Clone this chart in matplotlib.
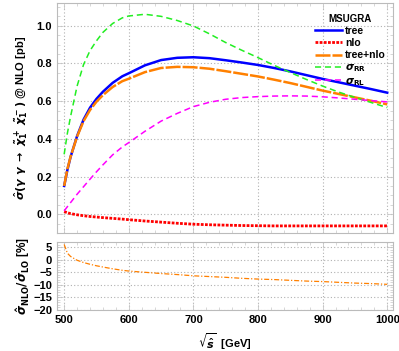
import matplotlib
matplotlib.use("Agg")
import matplotlib.pyplot as plt
from matplotlib.ticker import AutoMinorLocator, MultipleLocator

# energies (GeV)
sqrt_s = [500, 505, 510, 520, 530, 540, 550, 560, 575, 590, 600, 625, 650, 675,
          700, 725, 750, 775, 800, 825, 850, 875, 900, 925, 950, 975, 1000]

# cross sections [pb]
tree = [0.150, 0.235, 0.305, 0.415, 0.502, 0.565, 0.612, 0.650, 0.697, 0.732, 0.748,
        0.790, 0.818, 0.830, 0.833, 0.828, 0.817, 0.805, 0.792, 0.776, 0.758, 0.738,
        0.718, 0.700, 0.682, 0.664, 0.645]
nlo = [0.014, 0.008, 0.003, -0.003, -0.008, -0.012, -0.015, -0.018, -0.022, -0.026,
       -0.029, -0.036, -0.042, -0.048, -0.053, -0.056, -0.058, -0.060, -0.061, -0.062,
       -0.062, -0.062, -0.062, -0.062, -0.062, -0.062, -0.062]
tree_nlo = [0.150, 0.240, 0.306, 0.412, 0.494, 0.553, 0.597, 0.632, 0.675, 0.706, 0.719,
            0.754, 0.776, 0.782, 0.780, 0.772, 0.759, 0.745, 0.731, 0.714, 0.696, 0.676,
            0.656, 0.638, 0.620, 0.602, 0.583]
sigma_rr = [0.318, 0.430, 0.520, 0.680, 0.794, 0.868, 0.920, 0.965, 1.012, 1.042, 1.052,
            1.061, 1.050, 1.028, 0.999, 0.957, 0.911, 0.870, 0.831, 0.790, 0.752, 0.715,
            0.680, 0.648, 0.620, 0.593, 0.566]
sigma_rl = [0.018, 0.040, 0.062, 0.106, 0.146, 0.186, 0.225, 0.262, 0.315, 0.357, 0.380,
            0.440, 0.494, 0.535, 0.571, 0.594, 0.610, 0.619, 0.624, 0.627, 0.628, 0.627,
            0.623, 0.617, 0.610, 0.603, 0.596]

# ratio nlo/tree [%]
ratio = [6.1, 2.6, 1.3, -0.2, -1.1, -1.8, -2.4, -2.9, -3.6, -4.2, -4.5, -5.0, -5.5, -5.9,
         -6.4, -6.7, -7.0, -7.4, -7.7, -7.9, -8.2, -8.5, -8.7, -9.0, -9.3, -9.5, -9.8]

plt.rcParams["font.family"] = ["Liberation Sans", "DejaVu Sans"]
plt.rcParams["font.weight"] = "bold"
plt.rcParams["mathtext.fontset"] = "dejavusans"
plt.rcParams["font.size"] = 8

fig = plt.figure(figsize=(3.99, 3.51), dpi=100)
ax1 = fig.add_axes([0.143, 0.336, 0.842, 0.655])
ax2 = fig.add_axes([0.143, 0.117, 0.842, 0.193])

ax1.plot(sqrt_s, tree, color="#0000ff", lw=1.8, label="tree")
ax1.plot(sqrt_s, nlo, color="#ff0000", lw=2.0, ls=(0, (1, 0.5)), label="nlo")
ax1.plot(sqrt_s, tree_nlo, color="#ff8000", lw=1.8, ls=(0, (6, 0.8)), label="tree+nlo")
ax1.plot(sqrt_s, sigma_rr, color="#22ee22", lw=1.1, ls=(0, (4, 2.5)), label=r"$\sigma_{\mathrm{RR}}$")
ax1.plot(sqrt_s, sigma_rl, color="#ff00ff", lw=1.1, ls=(0, (4, 2.5)), label=r"$\sigma_{\mathrm{RL}}$")

ax2.plot(sqrt_s, ratio, color="#ff8000", lw=0.9, ls=(0, (4, 1.5, 1, 1.5)))

for ax in (ax1, ax2):
    ax.set_xlim(489, 1009)
    ax.xaxis.set_major_locator(MultipleLocator(100))
    ax.xaxis.set_minor_locator(AutoMinorLocator(5))
    ax.grid(True, which="major", color="#b0b0b0", ls=(0, (1, 2)), lw=0.8)
    ax.tick_params(which="both", direction="in", top=True, right=True, color="#c8c8c8")
    ax.tick_params(which="major", length=4, width=0.6)
    ax.tick_params(which="minor", length=2, width=0.5)
    for sp in ax.spines.values():
        sp.set_color("#bbbbbb")
        sp.set_linewidth(0.8)

ax1.set_ylim(-0.1, 1.12)
ax1.yaxis.set_minor_locator(AutoMinorLocator(4))
ax1.tick_params(labelbottom=False)
ax1.set_yticks([0.0, 0.2, 0.4, 0.6, 0.8, 1.0])
ax1.set_yticklabels(["0.0", "0.2", "0.4", "0.6", "0.8", "1.0"])
ax1.set_ylabel(r"$\hat{\sigma}(\gamma\ \gamma\ \to\ \tilde{\chi}^+_1\ \tilde{\chi}^-_1)$ @ NLO [pb]",
               fontweight="bold", labelpad=4)

ax2.set_ylim(-20, 7)
ax2.yaxis.set_major_locator(MultipleLocator(5))
ax2.yaxis.set_minor_locator(AutoMinorLocator(5))
ax2.set_ylabel(r"$\hat{\sigma}_{\mathrm{NLO}}/\hat{\sigma}_{\mathrm{LO}}$ [%]", fontweight="bold",
               fontsize=8.5, labelpad=1)
ax2.set_xlabel(r"$\sqrt{\hat{s}}$  [GeV]", fontweight="bold", labelpad=5)

leg = ax1.legend(title="MSUGRA", loc="upper right", frameon=False, fontsize=7.5,
                 handlelength=2.6, handletextpad=0.3, labelspacing=0.2,
                 borderaxespad=0.3, bbox_to_anchor=(1.0, 0.985))
leg.get_title().set_fontweight("bold")
leg.get_title().set_fontsize(7)

fig.savefig("out.png", dpi=100)
